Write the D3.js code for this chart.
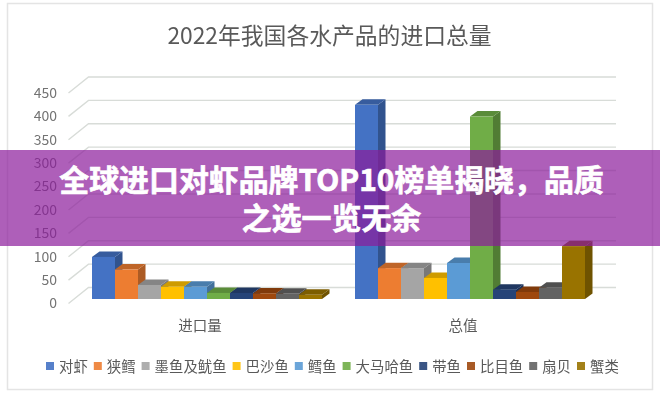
<!DOCTYPE html>
<html>
<head>
<meta charset="utf-8">
<script src="https://cdn.jsdelivr.net/npm/d3@7"></script>
<style>
  html, body { margin: 0; padding: 0; background: #fff; }
  svg { display: block; }
  text { font-family: "Noto Sans CJK SC", "Noto Sans", sans-serif; }
</style>
</head>
<body>
<svg id="chart" width="660" height="396"></svg>
<script>
var title = "2022年我国各水产品的进口总量";
var bannerLines = ["全球进口对虾品牌TOP10榜单揭晓，品质", "之选一览无余"];
var groups = ["进口量", "总值"];
var species = ["对虾", "狭鳕", "墨鱼及鱿鱼", "巴沙鱼", "鳕鱼", "大马哈鱼", "带鱼", "比目鱼", "扇贝", "蟹类"];
var importVolume = [90, 63, 30, 26, 26, 13, 13, 12, 11, 9];
var totalValue = [415, 66, 66, 45, 77, 390, 20, 15, 24, 113];
var yTicks = [0, 50, 100, 150, 200, 250, 300, 350, 400, 450];
var colors = ["#4472c4", "#ed7d31", "#a5a5a5", "#ffc000", "#5b9bd5", "#70ad47", "#264478", "#9e480e", "#636363", "#997300"];

var svg = d3.select("#chart");
var depthX = 20, depthY = 16;   // wall depth
var barDX = 7.5, barDY = 5.5;   // bar depth

var y = d3.scaleLinear().domain([0, 450]).range([303.5, 93]);
var x0 = d3.scaleBand().domain(groups).range([68.5, 594.5]);
var x1 = d3.scaleBand().domain(species).range([0, 230]);
var color = d3.scaleOrdinal().domain(species).range(colors);

svg.append("rect").attr("x", 7.5).attr("y", 3.5).attr("width", 645).attr("height", 386)
  .attr("fill", "#fff").attr("stroke", "#e4e4e4").attr("stroke-width", 1.5);

var chart = svg.append("g").style("filter", "blur(0.5px)");

chart.append("text").attr("x", 329.5).attr("y", 44).attr("text-anchor", "middle")
  .attr("font-size", 22.8).attr("fill", "#595959").text(title);

// grid lines on the side and back walls
var grid = chart.append("g").attr("fill", "none").attr("stroke", "#d8dcd8").attr("stroke-width", 1.4);
grid.selectAll("path").data(yTicks).join("path")
  .attr("d", function(d) {
    return d3.line()([[x0.range()[0], y(d)], [x0.range()[0] + depthX, y(d) - depthY], [616, y(d) - depthY]]);
  });

chart.append("g").selectAll("text").data(yTicks).join("text")
  .attr("x", 57).attr("y", function(d) { return y(d); })
  .attr("dy", "0.35em").attr("text-anchor", "end")
  .attr("font-size", 14).attr("fill", "#737373")
  .text(function(d) { return d; });

// bars, left to right so that each front hides the side of the bar before it
function drawGroup(name, values) {
  var g = chart.append("g");
  var left = x0(name) + x0.bandwidth() / 2 + 7 - 115;
  species.forEach(function(s, i) {
    var xa = left + x1(s), xb = xa + x1.bandwidth();
    var base = y(0) - 4.5, top = y(values[i]) - 4.5;
    var c = d3.color(color(s));
    g.append("path").attr("fill", c.darker(0.9))
      .attr("d", d3.line()([[xb, base], [xb + barDX, base - barDY], [xb + barDX, top - barDY], [xb, top]]));
    g.append("path").attr("fill", c.darker(0.6))
      .attr("d", d3.line()([[xa, top], [xa + barDX, top - barDY], [xb + barDX, top - barDY], [xb, top]]));
    g.append("rect").attr("x", xa).attr("y", top)
      .attr("width", x1.bandwidth()).attr("height", base - top).attr("fill", c);
  });
}
drawGroup(groups[0], importVolume);
drawGroup(groups[1], totalValue);

chart.append("g").selectAll("text").data(groups).join("text")
  .attr("x", function(d) { return x0(d) + x0.bandwidth() / 2; })
  .attr("y", 331).attr("text-anchor", "middle")
  .attr("font-size", 14.5).attr("fill", "#595959")
  .text(function(d) { return d; });

// legend
var legend = chart.append("g");
var legendX = 46;
species.forEach(function(s) {
  legend.append("rect").attr("x", legendX).attr("y", 362).attr("width", 8).attr("height", 8).attr("fill", color(s)).attr("fill-opacity", 0.9);
  legend.append("text").attr("x", legendX + 13).attr("y", 371.5)
    .attr("font-size", 14.4).attr("fill", "#595959").text(s);
  legendX += 19 + s.length * 14.4;
});

// banner on top of the chart
svg.append("rect").attr("x", 0).attr("y", 150).attr("width", 660).attr("height", 96)
  .attr("fill", "rgb(139,27,155)").attr("fill-opacity", 0.7);
svg.append("g").selectAll("text").data(bannerLines).join("text")
  .attr("x", 331.5).attr("y", function(d, i) { return 191 + i * 38; })
  .attr("text-anchor", "middle").attr("font-size", 29.9).attr("font-weight", 700)
  .attr("fill", "#fff").attr("stroke", "#fff").attr("stroke-width", 0.7)
  .text(function(d) { return d; });
</script>
</body>
</html>
